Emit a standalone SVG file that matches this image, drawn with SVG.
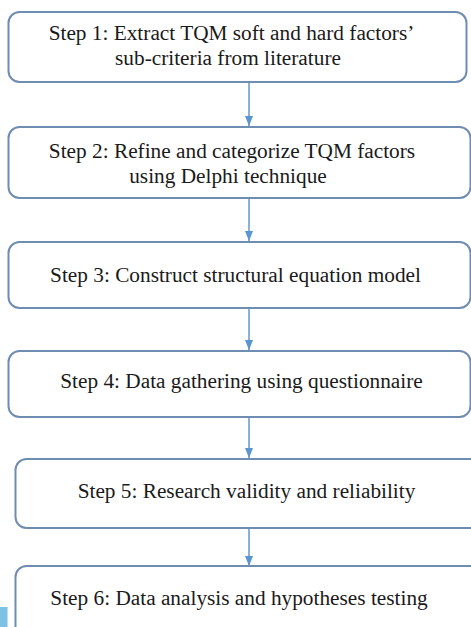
<svg xmlns="http://www.w3.org/2000/svg" width="471" height="627" viewBox="0 0 471 627">
<defs>
<style>
.box{fill:#fff;stroke:#6f8db0;stroke-width:2}
.t{font-family:"Liberation Serif","Times New Roman",serif;font-size:21.3px;fill:#1a1a1a;text-anchor:middle}
.c{stroke:#6a9fd4;stroke-width:1.6;fill:none}
</style>
<marker id="ah" viewBox="0 0 10 8" refX="10" refY="4" markerWidth="10" markerHeight="8" markerUnits="userSpaceOnUse" orient="auto">
<path d="M0,0 L10,4 L0,8 Z" fill="#5b95d0"/>
</marker>
</defs>
<rect width="471" height="627" fill="#fff"/>
<rect x="0" y="607" width="7.5" height="20" fill="#7dc2e2"/>
<g id="connectors">
<line class="c" x1="249" y1="83" x2="249" y2="126" marker-end="url(#ah)"/>
<line class="c" x1="249" y1="199" x2="249" y2="241" marker-end="url(#ah)"/>
<line class="c" x1="249" y1="309" x2="249" y2="350" marker-end="url(#ah)"/>
<line class="c" x1="249" y1="418" x2="249" y2="458" marker-end="url(#ah)"/>
<line class="c" x1="249" y1="529" x2="249" y2="566" marker-end="url(#ah)"/>
</g>
<g id="step1">
<rect class="box" x="8.5" y="12" width="458" height="70" rx="11"/>
<text class="t" x="231.5" y="40">Step 1: Extract TQM soft and hard factors’</text>
<text class="t" x="228" y="65">sub-criteria from literature</text>
</g>
<g id="step2">
<rect class="box" x="8.5" y="127" width="462" height="71" rx="11"/>
<text class="t" x="232" y="158">Step 2: Refine and categorize TQM factors</text>
<text class="t" x="228" y="183">using Delphi technique</text>
</g>
<g id="step3">
<rect class="box" x="8.5" y="242" width="462" height="66" rx="11"/>
<text class="t" x="235.5" y="282">Step 3: Construct structural equation model</text>
</g>
<g id="step4">
<rect class="box" x="8.5" y="351" width="462" height="66" rx="11"/>
<text class="t" x="241.5" y="388">Step 4: Data gathering using questionnaire</text>
</g>
<g id="step5">
<rect class="box" x="15.5" y="459" width="470" height="69" rx="11"/>
<text class="t" x="246.5" y="498">Step 5: Research validity and reliability</text>
</g>
<g id="step6">
<rect class="box" x="15.5" y="566" width="470" height="80" rx="11"/>
<text class="t" x="239" y="605">Step 6: Data analysis and hypotheses testing</text>
</g>
</svg>
